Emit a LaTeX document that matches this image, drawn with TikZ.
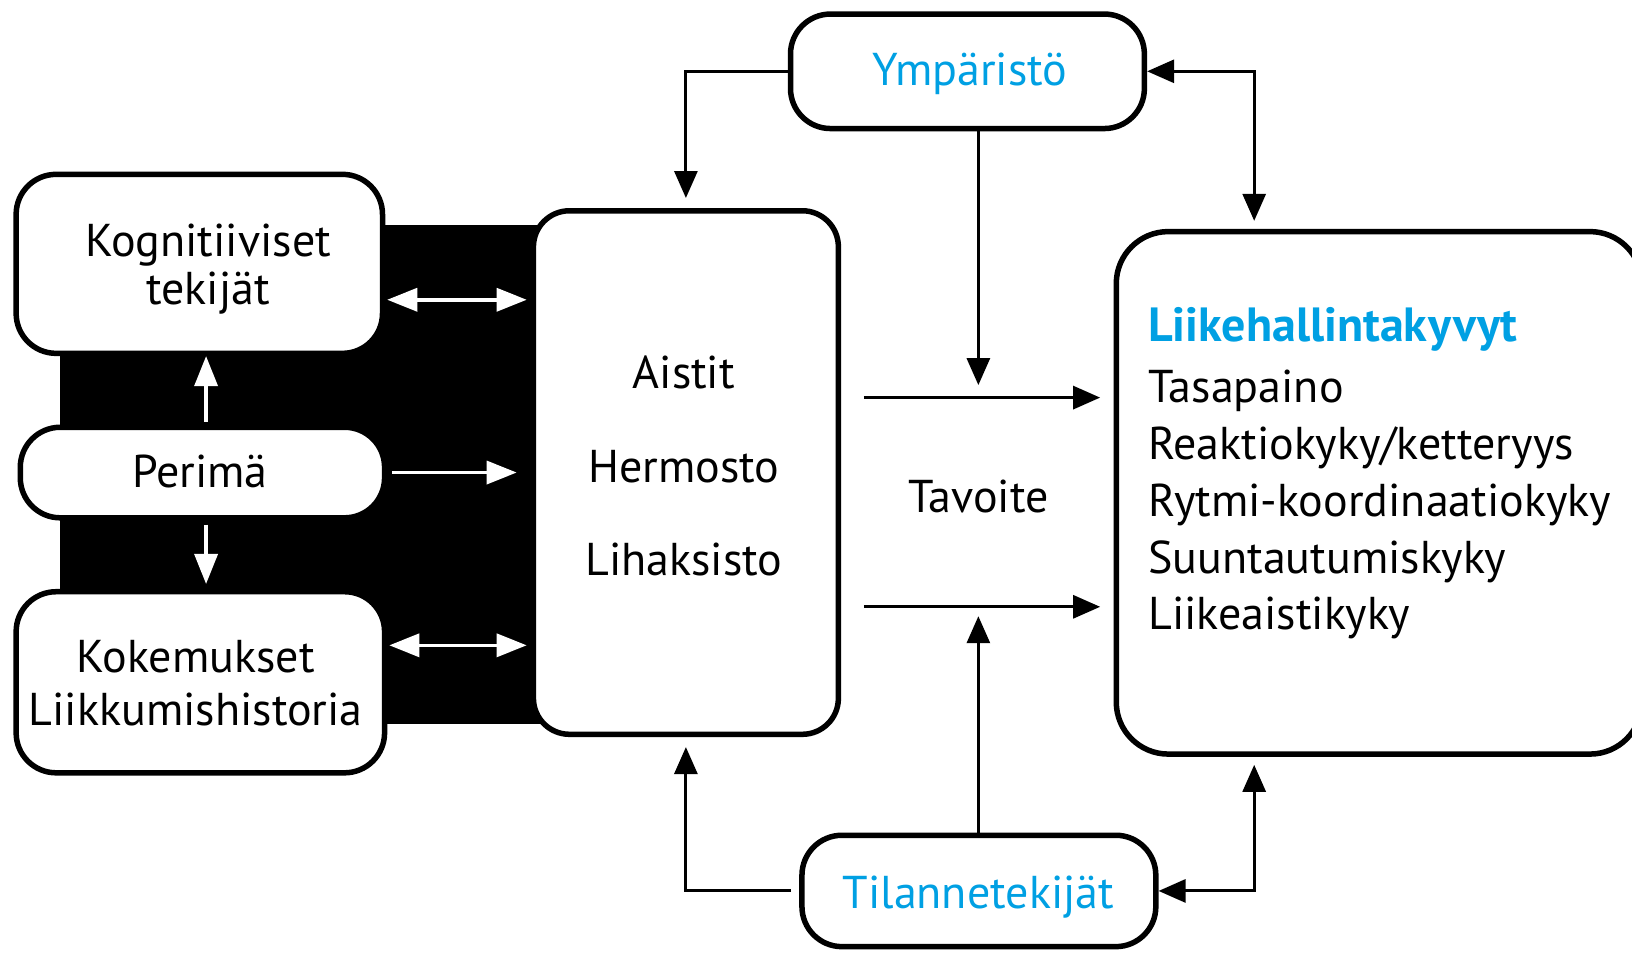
\documentclass[tikz,border=0pt]{standalone}
\usepackage{fontspec}
\setmainfont{PT Sans}
\usetikzlibrary{arrows.meta}
\definecolor{cyanb}{RGB}{0,160,227}
\newcommand\pxs{1.0408}
\begin{document}
\begin{tikzpicture}[x=1.0408pt,y=-1.0408pt,
  box/.style={draw=black, line width=5.5pt, fill=white, rounded corners=40pt, inner sep=0pt},
  wline/.style={draw=white, line width=3.5pt},
  whead/.style={wline, -{Triangle[length=30pt,width=23pt]}},
  wboth/.style={wline, {Triangle[length=30pt,width=23pt]}-{Triangle[length=30pt,width=23pt]}},
  bline/.style={draw=black, line width=3pt},
  bhead/.style={bline, -{Triangle[length=27pt,width=23pt]}},
  bboth/.style={bline, {Triangle[length=27pt,width=23pt]}-{Triangle[length=27pt,width=23pt]}},
  txt/.style={font=\fontsize{46}{48}\selectfont, inner sep=0pt, align=center},
  btxt/.style={txt, text=cyanb},
]
\useasboundingbox (0,0) rectangle (1568,915);
% black background
\fill[black] (58,216) rectangle (540,696);
% boxes
\node[box, minimum width=340*\pxs pt, minimum height=110*\pxs pt] (ymp) at (929.5,68.5) {};
\node[box, minimum width=293*\pxs pt, minimum height=503*\pxs pt, rounded corners=36pt] (aist) at (659,454) {};
\node[box, minimum width=505*\pxs pt, minimum height=502*\pxs pt, rounded corners=52pt] (liike) at (1325,473.5) {};
\node[box, minimum width=340*\pxs pt, minimum height=107*\pxs pt] (tila) at (940.5,856) {};
\node[box, minimum width=352*\pxs pt, minimum height=172*\pxs pt] (kog) at (191.5,253.5) {};
\node[box, minimum width=350*\pxs pt, minimum height=87*\pxs pt] (per) at (194.5,454) {};
\node[box, minimum width=354*\pxs pt, minimum height=174*\pxs pt] (kok) at (192.5,655.5) {};
% texts
\node[btxt] (ympt) at (932,71) {Ympäristö};
\node[btxt] (tilat) at (940,862) {Tilannetekijät};
\node[txt] (kogt) at (200,259) {Kognitiiviset\\tekijät};
\node[txt] (pert) at (192,453) {Perimä};
\node[txt, font=\fontsize{46}{53}\selectfont] (kokt) at (188,656) {Kokemukset\\Liikkumishistoria};
\node[txt] (a1t) at (657,358) {Aistit};
\node[txt] (a2t) at (657,448) {Hermosto};
\node[txt] (a3t) at (657,538) {Lihaksisto};
\node[txt] (tavt) at (940,477) {Tavoite};
\node[txt, anchor=base west, text=cyanb, font=\fontsize{48}{50}\selectfont\bfseries] (l0) at (1103,328) {Liikehallintakyvyt};
\node[txt, anchor=base west] (l1) at (1103,387) {Tasapaino};
\node[txt, anchor=base west] (l2) at (1103,441) {Reaktiokyky/ketteryys};
\node[txt, anchor=base west] (l3) at (1103,496) {Rytmi-koordinaatiokyky};
\node[txt, anchor=base west] (l4) at (1103,551) {Suuntautumiskyky};
\node[txt, anchor=base west] (l5) at (1103,605) {Liikeaistikyky};
% coordinates
\coordinate (rc) at (1205,0);
\coordinate (tavtop) at (940,370);
\coordinate (tavbot) at (940,592);
\coordinate (h1s) at (830,382);
\coordinate (h1e) at (1057,382);
\coordinate (h2s) at (830,583);
\coordinate (h2e) at (1057,583);
% black connectors
\draw[bhead, shorten >=10pt] (ymp.west) -| (aist.north);
\draw[bhead] (ymp.south -| tavtop) -- (tavtop);
\draw[bhead] (h1s) -- (h1e);
\draw[bhead] (h2s) -- (h2e);
\draw[bhead] (tila.north -| tavbot) -- (tavbot);
\draw[bhead, shorten <=8pt, shorten >=10pt] (tila.west) -| (aist.south);
\draw[bboth, shorten >=8pt] (ymp.east) -| (liike.north -| rc);
\draw[bboth, shorten >=8pt] (tila.east) -| (liike.south -| rc);
% white connectors
\draw[wboth, shorten <=2pt, shorten >=4pt] (kog.east |- 0,288) -- (aist.west |- 0,288);
\draw[whead, shorten <=5pt, shorten >=14pt] (per.east) -- (aist.west |- per.east);
\draw[wboth, shorten <=2pt, shorten >=4pt] (kok.east |- 0,620) -- (aist.west |- 0,620);
\draw[whead, shorten <=3pt] (per.north -| 198,0) -- (kog.south -| 198,0);
\draw[whead, shorten <=4pt, shorten >=5pt] (per.south -| 198,0) -- (kok.north -| 198,0);
\end{tikzpicture}
\end{document}
